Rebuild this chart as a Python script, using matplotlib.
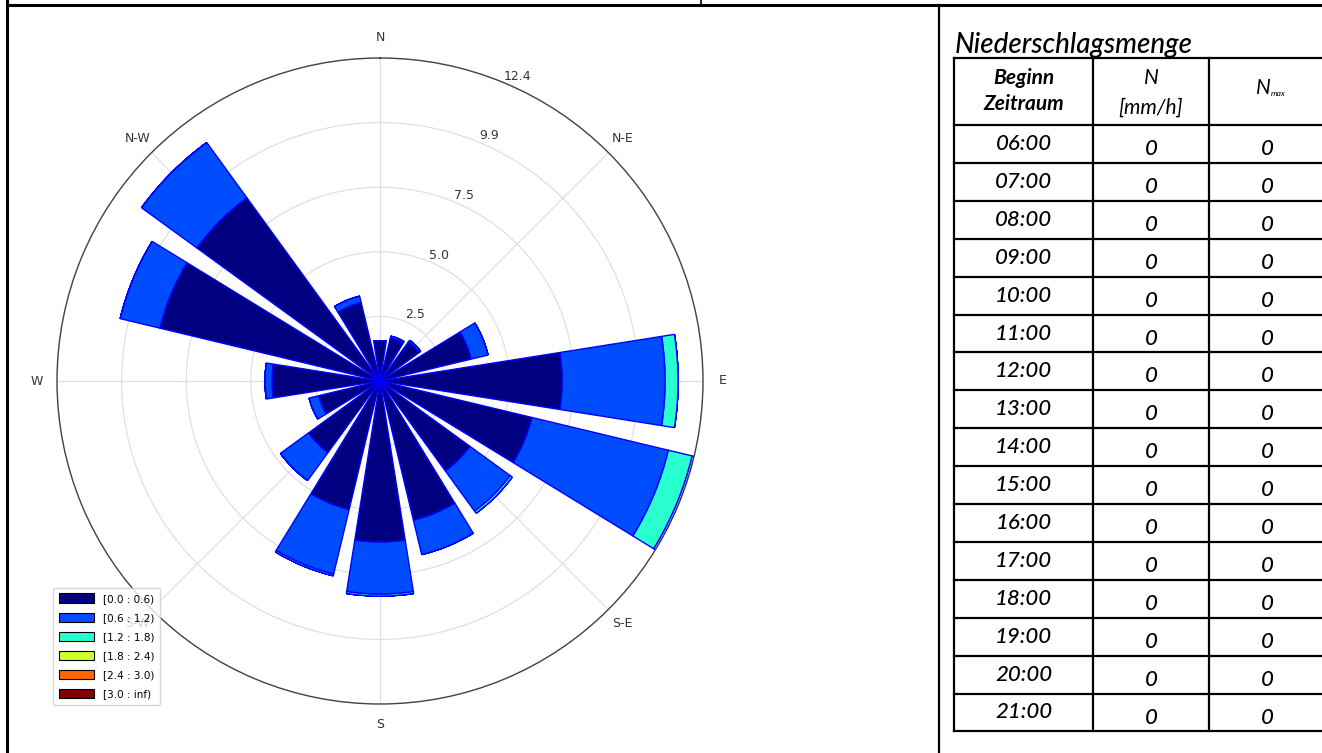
import numpy as np
import matplotlib.pyplot as plt
from matplotlib.patches import Patch

# wind rose data: frequency [%] per direction and speed bin
directions = ["N", "NNE", "NE", "ENE", "E", "ESE", "SE", "SSE",
              "S", "SSW", "SW", "WSW", "W", "WNW", "NW", "NNW"]
bin_labels = ["[0.0 : 0.6)", "[0.6 : 1.2)", "[1.2 : 1.8)",
              "[1.8 : 2.4)", "[2.4 : 3.0)", "[3.0 : inf)"]
freq_b0 = [1.55, 1.70, 1.85, 3.60, 7.00, 6.00, 4.27, 5.50, 6.19, 5.08, 3.40, 2.42, 4.15, 8.70, 8.70, 3.10]
freq_b1 = [0.00, 0.07, 0.08, 0.67, 3.96, 5.40, 1.91, 1.36, 2.00, 2.55, 1.33, 0.38, 0.27, 1.57, 2.63, 0.25]
freq_b2 = [0.00, 0.00, 0.00, 0.00, 0.50, 0.94, 0.10, 0.00, 0.08, 0.07, 0.00, 0.00, 0.00, 0.00, 0.00, 0.00]
freq_b3 = [0.00, 0.00, 0.00, 0.00, 0.00, 0.08, 0.00, 0.00, 0.00, 0.00, 0.00, 0.00, 0.00, 0.00, 0.00, 0.00]
freq_b4 = [0.0] * 16
freq_b5 = [0.0] * 16
compass_labels = ["N", "N-E", "E", "S-E", "S", "S-W", "W", "N-W"]

# precipitation table
table_title = "Niederschlagsmenge"
times = ["06:00", "07:00", "08:00", "09:00", "10:00", "11:00", "12:00", "13:00",
         "14:00", "15:00", "16:00", "17:00", "18:00", "19:00", "20:00", "21:00"]
n_values = [0] * 16
nmax_values = [0] * 16

W, H = 1322, 753
fig = plt.figure(figsize=(W / 100, H / 100), dpi=100)

# ---- wind rose ----
cx, cy, rad = 380, 381, 323
ax = fig.add_axes([(cx - rad) / W, (H - cy - rad) / H, 2 * rad / W, 2 * rad / H],
                  projection="polar")
ax.set_theta_zero_location("N")
ax.set_theta_direction(-1)

table = np.array([freq_b0, freq_b1, freq_b2, freq_b3, freq_b4, freq_b5])
colors = plt.cm.jet(np.linspace(0, 1, len(bin_labels)))
theta = np.radians(np.arange(len(directions)) * 360 / len(directions))
opening = np.radians(360 / len(directions) * 0.8)

offset = np.zeros(len(directions))
for i in range(len(bin_labels)):
    ax.bar(theta, table[i], width=opening, bottom=offset, color=colors[i],
           edgecolor="blue", linewidth=1.0, zorder=10 + len(bin_labels) - i)
    offset = offset + table[i]

rmax = table.sum(axis=0).max()
ax.set_ylim(0, rmax)
radii = np.linspace(0, rmax, 6)[1:]
ax.set_rgrids(radii, labels=["%.1f" % r for r in radii], angle=22.5,
              fontsize=9, color="#333333")
ax.set_thetagrids(np.arange(0, 360, 45), labels=compass_labels, fontsize=9,
                  color="#333333")
ax.tick_params(axis="x", pad=4)
ax.grid(True, color="#dadaf0", linewidth=0.8)
ax.set_axisbelow(True)
ax.spines["polar"].set_color("#444444")
ax.spines["polar"].set_linewidth(1.0)

handles = [Patch(facecolor=c, edgecolor="black", linewidth=0.8) for c in colors]
fig.legend(handles, bin_labels, loc="lower left", bbox_to_anchor=(48 / W, (H - 710) / H),
           fontsize=7.5, handlelength=3.4, handleheight=1.0, labelspacing=0.85,
           framealpha=0.8, edgecolor="#cccccc", fancybox=True, borderpad=0.55)

# ---- page frame and table ----
pg = fig.add_axes([0, 0, 1, 1], zorder=-1)
pg.set_xlim(0, W)
pg.set_ylim(H, 0)
pg.axis("off")

pg.plot([7, 7], [0, H], color="black", lw=2.2)
pg.plot([7, W], [5, 5], color="black", lw=2.2)
pg.plot([701, 701], [0, 5], color="black", lw=1.2)
pg.plot([939, 939], [5, H], color="black", lw=1.6)

tfont = dict(family=["Lato", "DejaVu Sans"], style="italic", color="black")
pg.text(955, 53, table_title, fontsize=20, weight="medium", ha="left", va="baseline", **tfont)

col_x = [954, 1093, 1209, 1326]
top, head_bot, row_h = 58, 125, 37.9
n_rows = len(times)
bottom = head_bot + n_rows * row_h
for x in col_x:
    pg.plot([x, x], [top, bottom], color="black", lw=1.6)
pg.plot([col_x[0], col_x[-1]], [top, top], color="black", lw=1.6)
for k in range(n_rows + 1):
    y = head_bot + k * row_h
    pg.plot([col_x[0], col_x[-1]], [y, y], color="black", lw=1.6)

c1 = (col_x[0] + col_x[1]) / 2
c2 = (col_x[1] + col_x[2]) / 2
c3 = 1267
pg.text(c1, 78, "Beginn", fontsize=15, weight="bold", ha="center", va="center", **tfont)
pg.text(c1, 104, "Zeitraum", fontsize=15, weight="bold", ha="center", va="center", **tfont)
pg.text(c2, 78, "N", fontsize=15, ha="center", va="center", **tfont)
pg.text(c2, 108, "[mm/h]", fontsize=15, ha="center", va="center", **tfont)
pg.text(c3 - 4, 88, "N", fontsize=15, ha="center", va="center", **tfont)
pg.text(c3 + 4, 93, "max", fontsize=6, ha="left", va="center", **tfont)

for k in range(n_rows):
    y0 = head_bot + k * row_h
    pg.text(c1, y0 + 19, times[k], fontsize=16, weight="medium", ha="center", va="center", **tfont)
    pg.text(c2, y0 + 24, str(n_values[k]), fontsize=16, weight="medium", ha="center", va="center", **tfont)
    pg.text(c3, y0 + 24, str(nmax_values[k]), fontsize=16, weight="medium", ha="center", va="center", **tfont)

fig.savefig("out.png", dpi=100)
